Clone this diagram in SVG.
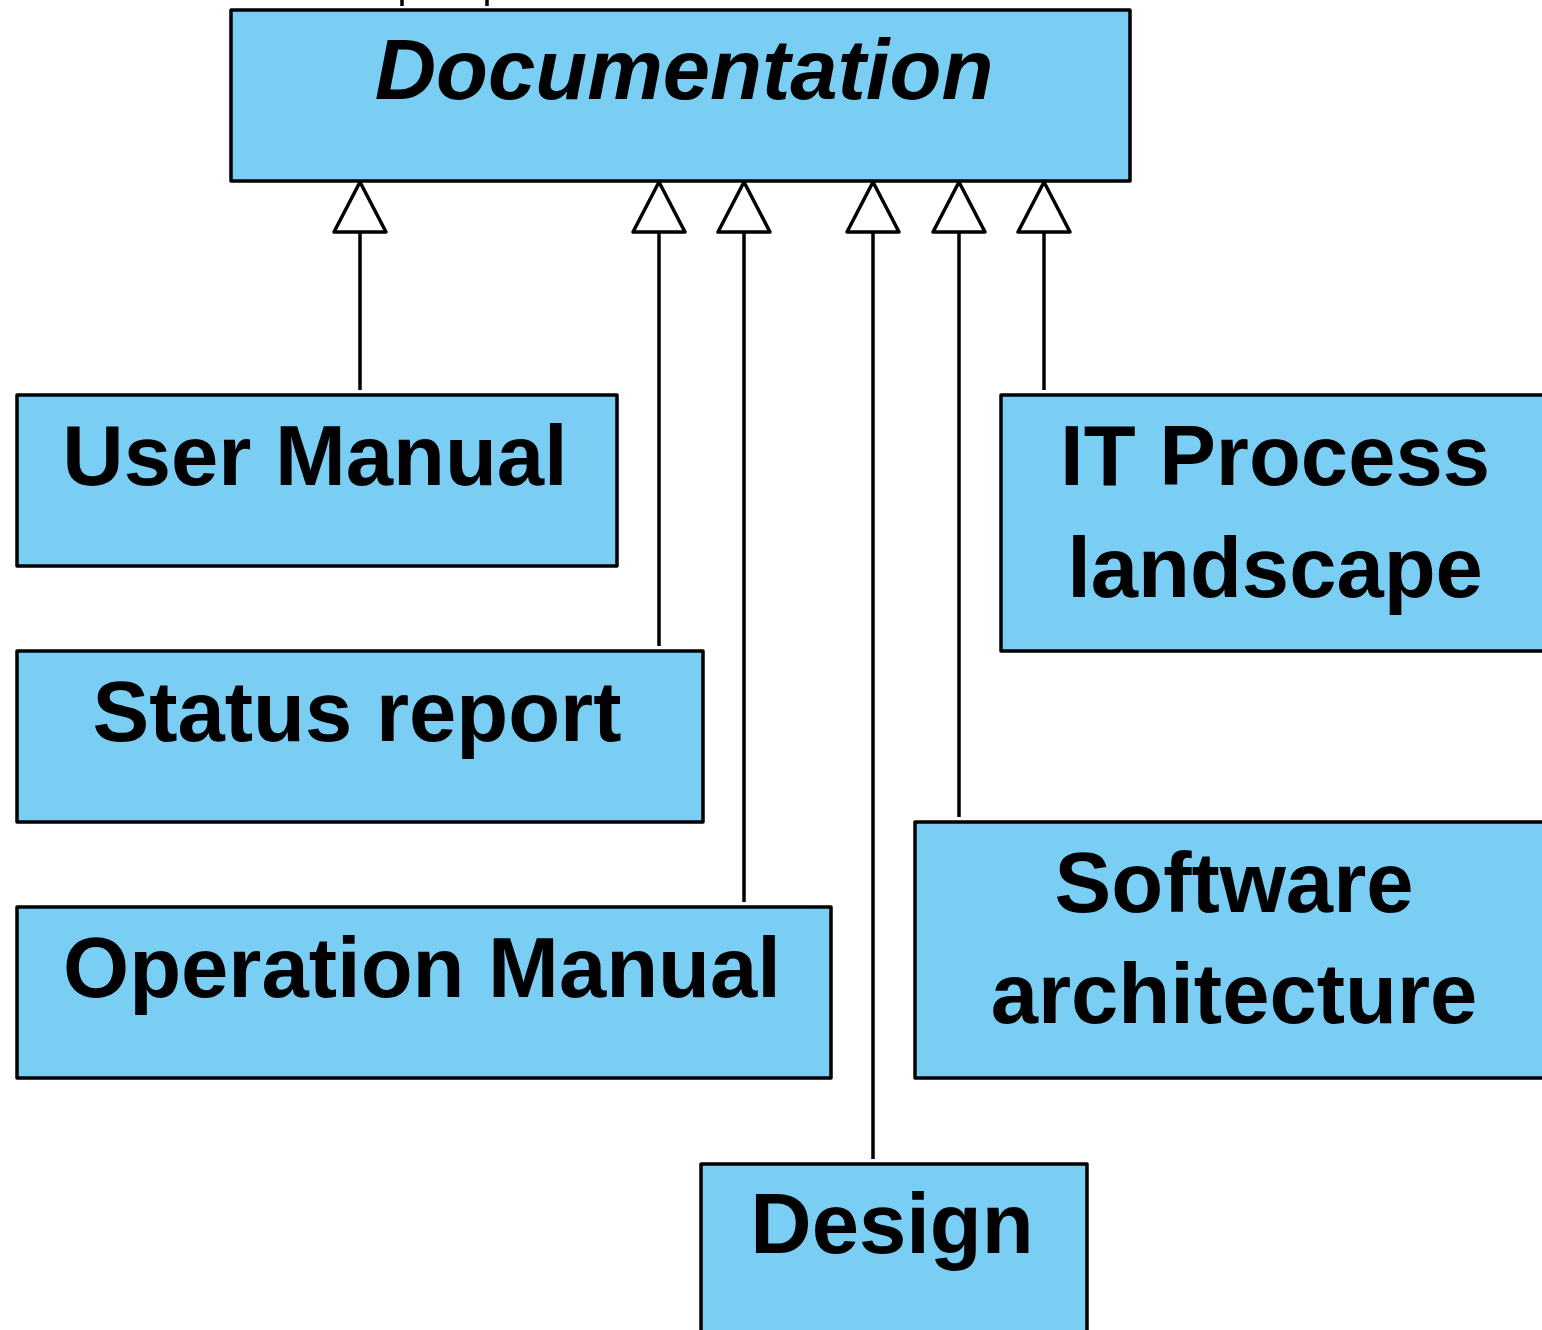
<svg xmlns="http://www.w3.org/2000/svg" width="1542" height="1330" viewBox="0 0 1542 1330">
<defs>
<style>
.box{fill:#7ACEF4;stroke:#000;stroke-width:3.5;stroke-linejoin:round}
.lbl{font-family:"Liberation Sans",Arial,Helvetica,sans-serif;font-weight:bold;font-size:85px;fill:#000;text-anchor:middle}
.it{font-style:italic}
.edge{stroke:#000;stroke-width:3.5;fill:none}
.head{fill:#fff;stroke:#000;stroke-width:3.5;stroke-linejoin:round}
</style>
</defs>
<rect width="1542" height="1330" fill="#fff"/>
<g id="connectors">
<line class="edge" x1="402" y1="0" x2="402" y2="6"/>
<line class="edge" x1="487" y1="0" x2="487" y2="6"/>
<line class="edge" x1="360" y1="232" x2="360" y2="390"/>
<polygon class="head" points="360,182 334,232 386,232"/>
<line class="edge" x1="659" y1="232" x2="659" y2="646"/>
<polygon class="head" points="659,182 633,232 685,232"/>
<line class="edge" x1="744" y1="232" x2="744" y2="902"/>
<polygon class="head" points="744,182 718,232 770,232"/>
<line class="edge" x1="873" y1="232" x2="873" y2="1159"/>
<polygon class="head" points="873,182 847,232 899,232"/>
<line class="edge" x1="959" y1="232" x2="959" y2="817"/>
<polygon class="head" points="959,182 933,232 985,232"/>
<line class="edge" x1="1044" y1="232" x2="1044" y2="390"/>
<polygon class="head" points="1044,182 1018,232 1070,232"/>
</g>
<g id="documentation">
<rect class="box" x="231" y="10" width="899" height="171"/>
<text class="lbl it" x="684" y="99">Documentation</text>
</g>
<g id="user-manual">
<rect class="box" x="17" y="395" width="600" height="171"/>
<text class="lbl" x="315" y="485">User Manual</text>
</g>
<g id="status-report">
<rect class="box" x="17" y="651" width="686" height="171"/>
<text class="lbl" x="357" y="741">Status report</text>
</g>
<g id="operation-manual">
<rect class="box" x="17" y="907" width="814" height="171"/>
<text class="lbl" x="422" y="997">Operation Manual</text>
</g>
<g id="it-process-landscape">
<rect class="box" x="1001" y="395" width="560" height="256"/>
<text class="lbl" x="1275" y="485">IT Process</text>
<text class="lbl" x="1275" y="597">landscape</text>
</g>
<g id="software-architecture">
<rect class="box" x="915" y="822" width="640" height="256"/>
<text class="lbl" x="1234" y="912">Software</text>
<text class="lbl" x="1234" y="1023">architecture</text>
</g>
<g id="design">
<rect class="box" x="701" y="1164" width="386" height="200"/>
<text class="lbl" x="892" y="1253">Design</text>
</g>
</svg>
